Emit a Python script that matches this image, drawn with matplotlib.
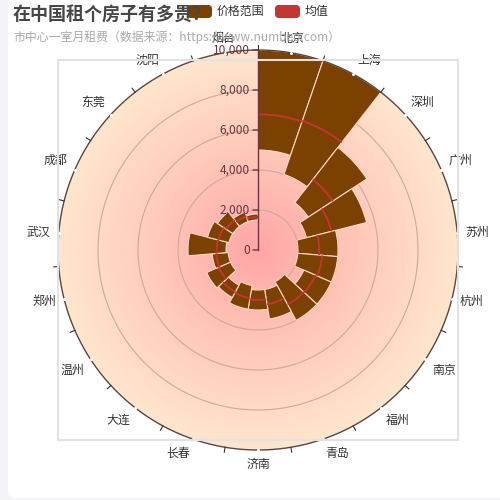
import numpy as np
import matplotlib.pyplot as plt
from matplotlib.colors import LinearSegmentedColormap
from matplotlib.patches import FancyBboxPatch, Rectangle

plt.rcParams['font.family'] = ['Noto Sans CJK SC', 'DejaVu Sans']

# data: monthly rent of a one-room flat in the city centre
cities = ['北京', '上海', '深圳', '广州', '苏州', '杭州', '南京', '福州', '青岛', '济南',
          '长春', '大连', '温州', '郑州', '武汉', '成都', '东莞', '沈阳', '烟台']
min_price = [5000, 4000, 3000, 2500, 2000, 2000, 2500, 1800, 2000, 2000,
             1800, 2000, 1500, 1500, 1600, 1500, 1500, 1500, 1500]
max_price = [10000, 10000, 6500, 5600, 4000, 4000, 4000, 4000, 3500, 3000,
             3000, 2700, 2800, 2300, 3500, 2600, 2417.54, 2000, 1800]
mean_price = [6785.71, 6825, 4463.33, 3793.83, 3060, 3222.33, 3133.33, 3100, 2750, 2500,
              2433.33, 2375, 2150, 2100, 2057.14, 2037.5, 1905.85, 1775, 1650]
radius_ticks = [0, 2000, 4000, 6000, 8000, 10000]
bar_height = 50

W = H = 500
RMAX = 10000
PX = RMAX / 200.0  # data units per pixel along the radius

BROWN = '#7b4100'
RED = '#c23531'
AXIS = '#6d3540'


def fig_box(x, y, w, h):
    """pixel box (top-left origin) -> figure fraction [l, b, w, h]"""
    return [x / W, 1 - (y + h) / H, w / W, h / H]


fig = plt.figure(figsize=(5, 5), dpi=100)
fig.patch.set_facecolor('#f3f3f8')

# white card and the grey grid frame
fig.add_artist(FancyBboxPatch((8 / W, 2 / H), 520 / W, 510 / H,
                              boxstyle='round,pad=0,rounding_size=0.014',
                              transform=fig.transFigure, fc='white', ec='none', zorder=0))
fig.add_artist(Rectangle((58 / W, 1 - 440 / H), 400 / W, 380 / H, transform=fig.transFigure,
                         fill=False, ec='#e2e2e2', lw=1.5, zorder=0.5))

ax = fig.add_axes(fig_box(58, 50, 400, 400), projection='polar')
ax.set_facecolor('none')
ax.set_theta_zero_location('N')
ax.set_theta_direction(-1)
ax.set_ylim(0, RMAX)
ax.grid(False)
ax.set_xticks([])
ax.set_yticks([])
ax.spines['polar'].set_visible(False)

# radial gradient background
th = np.linspace(0, 2 * np.pi, 181)
rr = np.linspace(0, RMAX, 60)
T, R = np.meshgrid(th, rr)
bg_cmap = LinearSegmentedColormap.from_list('bg', ['#ffa6a6', '#ffc8b8', '#ffe6cd'])
ax.pcolormesh(T, R, R, cmap=bg_cmap, shading='gouraud', zorder=0, rasterized=True)

full = np.linspace(0, 2 * np.pi, 361)
for r in radius_ticks[1:-1]:
    ax.plot(full, np.full_like(full, r), color='#cfa79e', lw=0.8, zorder=1)

n = len(cities)
band = 2 * np.pi / n
theta = (np.arange(n) + 0.5) * band
lo = np.array(min_price)
hi = np.array(max_price)
mean = np.array(mean_price)

ax.bar(theta, hi - lo, width=band, bottom=lo, color=BROWN,
       edgecolor='#ffd6c4', linewidth=0.8, zorder=3)
ax.bar(theta, np.full(n, 2 * bar_height), width=band, bottom=mean - bar_height,
       color=RED, linewidth=0, zorder=4)

# angle axis
ax.plot(full, np.full_like(full, RMAX), color='#5a4640', lw=1, zorder=5, clip_on=False)
for i in range(n):
    b = i * band
    ax.plot([b, b], [RMAX, RMAX + 5 * PX], color='#333333', lw=0.8, zorder=5, clip_on=False)
ax.plot(theta, np.full(n, RMAX), 'o', ms=2.2, color='white', mec='none',
        zorder=6, clip_on=False)
for c, name in zip(theta, cities):
    dx, dy = np.sin(c), np.cos(c)
    ha = 'center' if abs(dx) < 0.3 else ('left' if dx > 0 else 'right')
    va = 'center' if abs(dy) < 0.3 else ('bottom' if dy > 0 else 'top')
    ax.text(c, RMAX + 8 * PX, name, ha=ha, va=va, fontsize=8.6, color='#333333',
            clip_on=False)

# radius axis
ax.plot([0, 0], [0, RMAX], color=AXIS, lw=1, zorder=6)
for v in radius_ticks:
    ax.annotate('', xy=(0, v), xytext=(-3.6, 0), textcoords='offset points',
                arrowprops=dict(arrowstyle='-', color=AXIS, lw=1, shrinkA=0, shrinkB=0),
                zorder=6)
    ax.annotate(f'{v:,}', xy=(0, v), xytext=(-5.8, 0), textcoords='offset points',
                ha='right', va='center', fontsize=8.6, color=AXIS, zorder=6)

# titles
fig.text(13 / W, 1 - 15 / H, '在中国租个房子有多贵？', fontsize=13, fontweight='bold',
         color='#464646', va='center', zorder=3)
fig.text(13 / W, 1 - 37 / H, '市中心一室月租费（数据来源：https://www.numbeo.com）',
         fontsize=8.6, color='#aaaaaa', va='center', zorder=3)

# legend
for x0, col, label in [(187, BROWN, '价格范围'), (275, RED, '均值')]:
    fig.add_artist(FancyBboxPatch((x0 / W, 1 - 18 / H), 25 / W, 13 / H,
                                  boxstyle='round,pad=0,rounding_size=0.008',
                                  transform=fig.transFigure, fc=col, ec='none', zorder=2))
    fig.text((x0 + 30) / W, 1 - 11.5 / H, label, fontsize=8.6, color='#333333',
             va='center', zorder=3)

fig.savefig('out.png', dpi=100)
